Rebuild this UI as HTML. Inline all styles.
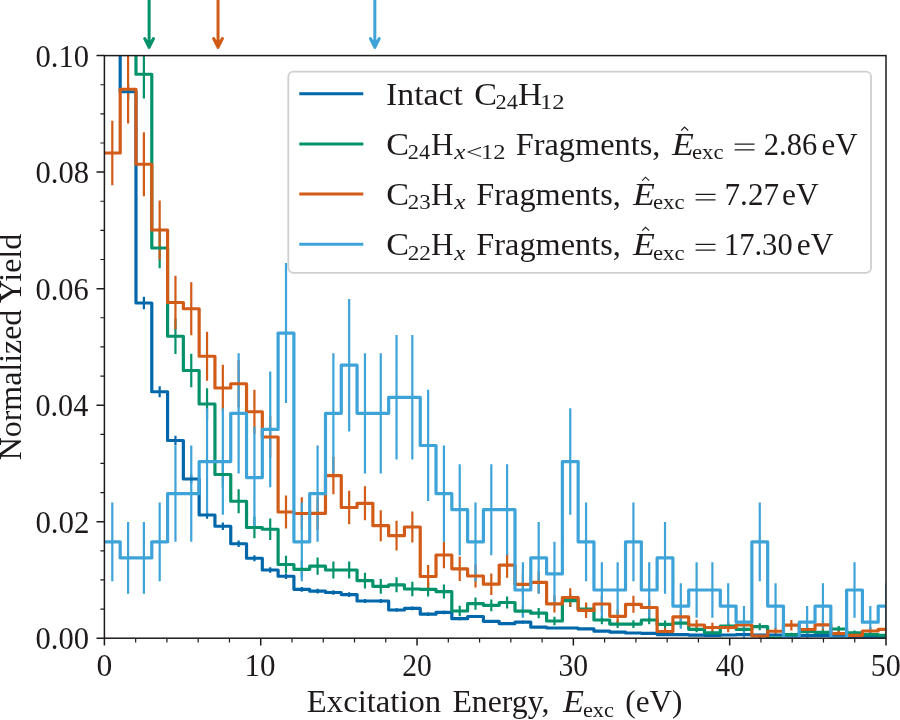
<!DOCTYPE html>
<html><head><meta charset="utf-8"><style>
html,body{margin:0;padding:0;background:#fff;}
svg{display:block;font-family:"Liberation Serif",serif;will-change:transform;}
</style></head><body>
<svg width="900" height="720" viewBox="0 0 900 720"><defs><clipPath id="ax"><rect x="104.4" y="55.6" width="781.6" height="582.6"/></clipPath></defs><rect width="900" height="720" fill="#fff"/><g clip-path="url(#ax)" fill="none"><path d="M112.30,21.46V38.54M128.09,83.65V99.85M143.88,296.66V309.34M159.67,386.31V397.19M175.46,435.63V445.37M191.26,474.63V483.37M207.05,511.16V518.84M222.84,522.58V529.92M238.63,540.38V547.12M254.42,555.15V561.35M270.22,567.14V572.86M286.01,573.52V578.98M301.80,586.88V591.72M317.59,588.83V593.57M333.38,590.16V594.84M349.18,592.31V596.89M364.97,598.89V603.11M380.76,598.89V603.11M396.55,608.16V611.84M412.34,606.51V610.29M428.14,612.50V615.90M443.93,610.64V614.16M459.72,617.17V620.23M475.51,614.89V618.11M491.30,619.88V622.72M507.10,622.28V624.92M522.89,620.81V623.59M538.68,626.05V628.35M554.47,626.89V629.11M570.26,626.89V629.11M586.06,627.84V629.96M601.85,630.28V632.12M617.64,631.24V632.96M633.43,632.21V633.79M649.22,632.53V634.07M665.02,633.94V635.26M680.81,633.94V635.26M696.60,634.49V635.71M712.39,634.82V635.98M728.18,634.38V635.62M743.98,633.94V635.26M759.77,634.60V635.80M775.56,634.38V635.62M791.35,634.71V635.89M807.14,635.04V636.16M822.94,635.04V636.16M838.73,635.82V636.78M854.52,635.82V636.78M870.31,635.82V636.78M886.10,635.82V636.78" stroke="#0068aa" stroke-width="2.2"/><path d="M112.30,-5.48V45.48M128.09,-5.48V45.48M143.88,49.92V98.58M159.67,227.76V268.24M175.46,318.44V354.06M191.26,353.73V387.27M207.05,388.32V419.68M222.84,461.39V487.61M238.63,489.26V513.24M254.42,516.72V538.28M270.22,518.55V539.95M286.01,555.70V573.30M301.80,560.79V577.81M317.59,557.40V574.80M333.38,561.54V578.46M349.18,561.54V578.46M364.97,572.82V588.38M380.76,578.92V593.68M396.55,577.31V592.29M412.34,581.81V596.19M428.14,582.13V596.47M443.93,584.61V598.59M459.72,605.66V616.34M475.51,597.57V609.63M491.30,599.42V611.18M507.10,596.38V608.62M522.89,605.77V616.43M538.68,608.08V618.32M554.47,616.75V625.25M570.26,594.43V606.97M586.06,603.46V614.54M601.85,615.63V624.37M617.64,620.25V627.95M633.43,620.25V627.95M649.22,615.63V624.37M665.02,620.59V628.21M680.81,619.23V627.17M696.60,626.24V632.36M712.39,630.42V635.18M728.18,622.42V629.58M743.98,626.24V632.36M759.77,623.23V630.17M791.35,632.78V636.62M807.14,628.97V634.23M822.94,629.93V634.87M838.73,625.89V632.11M854.52,630.42V635.18M870.31,632.78V636.62M886.10,633.56V637.04" stroke="#03926a" stroke-width="2.2"/><path d="M112.30,120.70V185.30M128.09,54.90V123.60M143.88,132.33V196.17M159.67,200.38V259.62M175.46,275.63V329.37M191.26,282.14V335.36M207.05,331.63V380.87M222.84,364.81V411.19M238.63,360.36V407.14M254.42,389.68V433.82M270.22,416.20V457.80M286.01,495.53V528.47M301.80,497.13V529.87M317.59,496.91V529.69M333.38,456.90V494.30M349.18,490.74V524.26M364.97,486.27V520.33M380.76,510.15V541.25M396.55,520.85V550.55M412.34,511.54V542.46M428.14,564.98V588.02M443.93,541.63V568.37M459.72,556.58V581.02M475.51,564.44V587.56M491.30,573.43V594.97M507.10,552.56V577.64M522.89,573.54V595.06M538.68,571.34V593.26M554.47,595.20V612.40M570.26,588.15V606.85M586.06,602.56V618.04M601.85,595.43V612.57M617.64,609.44V623.16M633.43,595.76V612.84M649.22,599.38V615.62M665.02,627.70V635.30M680.81,610.13V623.67M696.60,619.67V630.33M712.39,622.70V632.30M728.18,622.70V632.30M743.98,619.67V630.33M759.77,633.83V638.17M775.56,627.38V635.12M791.35,619.91V630.49M807.14,625.18V633.82M822.94,619.55V630.25M838.73,630.59V636.81M854.52,632.80V637.80M870.31,627.07V634.93M886.10,624.93V633.67" stroke="#d15b17" stroke-width="2.2"/><path d="M112.30,502.50V581.18M128.09,521.99V593.81M143.88,521.99V593.81M159.67,502.50V581.18M175.46,445.48V541.84M191.26,445.48V541.84M207.05,408.28V514.80M222.84,408.28V514.80M238.63,353.27V473.45M254.42,426.81V528.39M270.22,371.51V487.33M286.01,263.06V403.06M301.80,502.50V581.18M317.59,445.48V541.84M333.38,353.27V473.45M349.18,298.96V431.40M364.97,353.27V473.45M380.76,353.27V473.45M396.55,335.10V459.50M412.34,335.10V459.50M428.14,389.85V501.11M443.93,445.48V541.84M459.72,464.30V555.14M475.51,502.50V581.18M491.30,464.30V555.14M507.10,464.30V555.14M522.89,562.20V617.84M538.68,521.99V593.81M554.47,541.84V606.08M570.26,408.28V514.80M586.06,502.50V581.18M601.85,562.20V617.84M617.64,562.20V617.84M633.43,502.50V581.18M649.22,562.20V617.84M665.02,521.99V593.81M680.81,583.37V628.79M696.60,562.20V617.84M712.39,562.20V617.84M728.18,583.37V628.79M743.98,606.08V638.20M759.77,502.50V581.18M775.56,583.37V628.79M807.14,606.08V638.20M822.94,583.37V628.79M854.52,562.20V617.84M870.31,606.08V638.20M886.10,583.37V628.79" stroke="#3da3d9" stroke-width="2.2"/><path d="M104.40,30.00 H120.19 V91.75 H135.98 V303.00 H151.78 V391.75 H167.57 V440.50 H183.36 V479.00 H199.15 V515.00 H214.94 V526.25 H230.74 V543.75 H246.53 V558.25 H262.32 V570.00 H278.11 V576.25 H293.90 V589.30 H309.70 V591.20 H325.49 V592.50 H341.28 V594.60 H357.07 V601.00 H372.86 V601.00 H388.66 V610.00 H404.45 V608.40 H420.24 V614.20 H436.03 V612.40 H451.82 V618.70 H467.62 V616.50 H483.41 V621.30 H499.20 V623.60 H514.99 V622.20 H530.78 V627.20 H546.58 V628.00 H562.37 V628.00 H578.16 V628.90 H593.95 V631.20 H609.74 V632.10 H625.54 V633.00 H641.33 V633.30 H657.12 V634.60 H672.91 V634.60 H688.70 V635.10 H704.50 V635.40 H720.29 V635.00 H736.08 V634.60 H751.87 V635.20 H767.66 V635.00 H783.46 V635.30 H799.25 V635.60 H815.04 V635.60 H830.83 V636.30 H846.62 V636.30 H862.42 V636.30 H878.21 V636.30 H894.00" stroke="#0068aa" stroke-width="3.2" stroke-linejoin="round"/><path d="M104.40,20.00 H120.19 V20.00 H135.98 V74.25 H151.78 V248.00 H167.57 V336.25 H183.36 V370.50 H199.15 V404.00 H214.94 V474.50 H230.74 V501.25 H246.53 V527.50 H262.32 V529.25 H278.11 V564.50 H293.90 V569.30 H309.70 V566.10 H325.49 V570.00 H341.28 V570.00 H357.07 V580.60 H372.86 V586.30 H388.66 V584.80 H404.45 V589.00 H420.24 V589.30 H436.03 V591.60 H451.82 V611.00 H467.62 V603.60 H483.41 V605.30 H499.20 V602.50 H514.99 V611.10 H530.78 V613.20 H546.58 V621.00 H562.37 V600.70 H578.16 V609.00 H593.95 V620.00 H609.74 V624.10 H625.54 V624.10 H641.33 V620.00 H657.12 V624.40 H672.91 V623.20 H688.70 V629.30 H704.50 V632.80 H720.29 V626.00 H736.08 V629.30 H751.87 V626.70 H767.66 V638.20 H783.46 V634.70 H799.25 V631.60 H815.04 V632.40 H830.83 V629.00 H846.62 V632.80 H862.42 V634.70 H878.21 V635.30 H894.00" stroke="#03926a" stroke-width="3.2" stroke-linejoin="round"/><path d="M104.40,153.00 H120.19 V89.25 H135.98 V164.25 H151.78 V230.00 H167.57 V302.50 H183.36 V308.75 H199.15 V356.25 H214.94 V388.00 H230.74 V383.75 H246.53 V411.75 H262.32 V437.00 H278.11 V512.00 H293.90 V513.50 H309.70 V513.30 H325.49 V475.60 H341.28 V507.50 H357.07 V503.30 H372.86 V525.70 H388.66 V535.70 H404.45 V527.00 H420.24 V576.50 H436.03 V555.00 H451.82 V568.80 H467.62 V576.00 H483.41 V584.20 H499.20 V565.10 H514.99 V584.30 H530.78 V582.30 H546.58 V603.80 H562.37 V597.50 H578.16 V610.30 H593.95 V604.00 H609.74 V616.30 H625.54 V604.30 H641.33 V607.50 H657.12 V631.50 H672.91 V616.90 H688.70 V625.00 H704.50 V627.50 H720.29 V627.50 H736.08 V625.00 H751.87 V636.00 H767.66 V631.25 H783.46 V625.20 H799.25 V629.50 H815.04 V624.90 H830.83 V633.70 H846.62 V635.30 H862.42 V631.00 H878.21 V629.30 H894.00" stroke="#d15b17" stroke-width="3.2" stroke-linejoin="round"/><path d="M104.40,541.84 H120.19 V557.90 H135.98 V557.90 H151.78 V541.84 H167.57 V493.66 H183.36 V493.66 H199.15 V461.54 H214.94 V461.54 H230.74 V413.36 H246.53 V477.60 H262.32 V429.42 H278.11 V333.06 H293.90 V541.84 H309.70 V493.66 H325.49 V413.36 H341.28 V365.18 H357.07 V413.36 H372.86 V413.36 H388.66 V397.30 H404.45 V397.30 H420.24 V445.48 H436.03 V493.66 H451.82 V509.72 H467.62 V541.84 H483.41 V509.72 H499.20 V509.72 H514.99 V590.02 H530.78 V557.90 H546.58 V573.96 H562.37 V461.54 H578.16 V541.84 H593.95 V590.02 H609.74 V590.02 H625.54 V541.84 H641.33 V590.02 H657.12 V557.90 H672.91 V606.08 H688.70 V590.02 H704.50 V590.02 H720.29 V606.08 H736.08 V622.14 H751.87 V541.84 H767.66 V606.08 H783.46 V638.20 H799.25 V622.14 H815.04 V606.08 H830.83 V638.20 H846.62 V590.02 H862.42 V622.14 H878.21 V606.08 H894.00" stroke="#3da3d9" stroke-width="3.2" stroke-linejoin="round"/></g><rect x="104.4" y="55.6" width="781.6" height="582.6" fill="none" stroke="#1e1a1b" stroke-width="1.5"/><path d="M104.40,638.2v7.4M260.72,638.2v7.4M417.04,638.2v7.4M573.36,638.2v7.4M729.68,638.2v7.4M886.00,638.2v7.4M104.4,638.20h-7.9M104.4,521.68h-7.9M104.4,405.16h-7.9M104.4,288.64h-7.9M104.4,172.12h-7.9M104.4,55.60h-7.9" stroke="#1e1a1b" stroke-width="1.5" fill="none"/><path d="M135.66,638.2v4.3M166.93,638.2v4.3M198.19,638.2v4.3M229.46,638.2v4.3M291.98,638.2v4.3M323.25,638.2v4.3M354.51,638.2v4.3M385.78,638.2v4.3M448.30,638.2v4.3M479.57,638.2v4.3M510.83,638.2v4.3M542.10,638.2v4.3M604.62,638.2v4.3M635.89,638.2v4.3M667.15,638.2v4.3M698.42,638.2v4.3M760.94,638.2v4.3M792.21,638.2v4.3M823.47,638.2v4.3M854.74,638.2v4.3M104.4,609.07h-4M104.4,579.94h-4M104.4,550.81h-4M104.4,492.55h-4M104.4,463.42h-4M104.4,434.29h-4M104.4,376.03h-4M104.4,346.90h-4M104.4,317.77h-4M104.4,259.51h-4M104.4,230.38h-4M104.4,201.25h-4M104.4,142.99h-4M104.4,113.86h-4M104.4,84.73h-4" stroke="#1e1a1b" stroke-width="1.2" fill="none"/><path d="M149.11,-5V44" stroke="#03926a" stroke-width="3" fill="none"/><path d="M144.71,38.5L149.11,47.4L153.51,38.5" stroke="#03926a" stroke-width="3" stroke-linejoin="round" stroke-linecap="round" fill="none"/><path d="M144.71,38.5L149.11,40.8L153.51,38.5L149.11,47.4Z" fill="#03926a"/><path d="M218.04,-5V44" stroke="#d15b17" stroke-width="3" fill="none"/><path d="M213.64,38.5L218.04,47.4L222.44,38.5" stroke="#d15b17" stroke-width="3" stroke-linejoin="round" stroke-linecap="round" fill="none"/><path d="M213.64,38.5L218.04,40.8L222.44,38.5L218.04,47.4Z" fill="#d15b17"/><path d="M374.83,-5V44" stroke="#3da3d9" stroke-width="3" fill="none"/><path d="M370.43,38.5L374.83,47.4L379.23,38.5" stroke="#3da3d9" stroke-width="3" stroke-linejoin="round" stroke-linecap="round" fill="none"/><path d="M370.43,38.5L374.83,40.8L379.23,38.5L374.83,47.4Z" fill="#3da3d9"/><rect x="288.3" y="71.7" width="582.7" height="201.1" rx="5" ry="5" fill="#fff" stroke="#cfcfcf" stroke-width="1.8"/><path d="M299.3,93.85H363.3" stroke="#0068aa" stroke-width="3"/><path d="M299.3,143.95H363.3" stroke="#03926a" stroke-width="3"/><path d="M299.3,194.05H363.3" stroke="#d15b17" stroke-width="3"/><path d="M299.3,244.15H363.3" stroke="#3da3d9" stroke-width="3"/><g font-family="Liberation Serif" fill="#1e1a1b"><text x="386.08" y="104.60" font-size="31" textLength="76.82" lengthAdjust="spacingAndGlyphs">Intact</text><text x="474.20" y="104.60" font-size="31" textLength="22.79" lengthAdjust="spacingAndGlyphs">C</text><text x="495.52" y="109.20" font-size="21" textLength="22.33" lengthAdjust="spacingAndGlyphs">24</text><text x="517.94" y="104.60" font-size="31" textLength="24.14" lengthAdjust="spacingAndGlyphs">H</text><text x="540.04" y="109.20" font-size="21" textLength="24.62" lengthAdjust="spacingAndGlyphs">12</text><text x="386.30" y="154.70" font-size="31" textLength="22.79" lengthAdjust="spacingAndGlyphs">C</text><text x="407.72" y="159.30" font-size="21" textLength="22.33" lengthAdjust="spacingAndGlyphs">24</text><text x="430.90" y="154.70" font-size="31" textLength="22.51" lengthAdjust="spacingAndGlyphs">H</text><text x="454.31" y="159.30" font-size="21" textLength="11.13" lengthAdjust="spacingAndGlyphs" font-style="italic">x</text><text x="465.72" y="159.30" font-size="21" textLength="16.73" lengthAdjust="spacingAndGlyphs">&lt;</text><text x="481.10" y="159.30" font-size="21" textLength="24.51" lengthAdjust="spacingAndGlyphs">12</text><text x="515.77" y="154.70" font-size="31" textLength="144.57" lengthAdjust="spacingAndGlyphs">Fragments,</text><text x="671.92" y="154.70" font-size="31" textLength="21.86" lengthAdjust="spacingAndGlyphs" font-style="italic">E</text><path d="M681.20,130.50L684.50,127.10L688.20,130.50" stroke="#1e1a1b" stroke-width="1.1" fill="none"/><text x="691.91" y="159.30" font-size="21" textLength="31.59" lengthAdjust="spacingAndGlyphs">exc</text><path d="M734.60,144.15H754.50M734.60,149.85H754.50" stroke="#1e1a1b" stroke-width="1.25" fill="none"/><text x="763.86" y="154.70" font-size="31" textLength="53.35" lengthAdjust="spacingAndGlyphs">2.86</text><text x="821.49" y="154.70" font-size="31" textLength="36.06" lengthAdjust="spacingAndGlyphs">eV</text><text x="386.30" y="204.80" font-size="31" textLength="22.79" lengthAdjust="spacingAndGlyphs">C</text><text x="407.69" y="209.40" font-size="21" textLength="22.90" lengthAdjust="spacingAndGlyphs">23</text><text x="430.90" y="204.80" font-size="31" textLength="22.51" lengthAdjust="spacingAndGlyphs">H</text><text x="454.31" y="209.40" font-size="21" textLength="11.13" lengthAdjust="spacingAndGlyphs" font-style="italic">x</text><text x="476.37" y="204.80" font-size="31" textLength="144.47" lengthAdjust="spacingAndGlyphs">Fragments,</text><text x="632.92" y="204.80" font-size="31" textLength="21.86" lengthAdjust="spacingAndGlyphs" font-style="italic">E</text><path d="M642.20,180.60L645.50,177.20L649.20,180.60" stroke="#1e1a1b" stroke-width="1.1" fill="none"/><text x="652.91" y="209.40" font-size="21" textLength="31.59" lengthAdjust="spacingAndGlyphs">exc</text><path d="M695.60,194.25H715.50M695.60,199.95H715.50" stroke="#1e1a1b" stroke-width="1.25" fill="none"/><text x="724.55" y="204.80" font-size="31" textLength="54.45" lengthAdjust="spacingAndGlyphs">7.27</text><text x="782.07" y="204.80" font-size="31" textLength="36.58" lengthAdjust="spacingAndGlyphs">eV</text><text x="386.30" y="254.90" font-size="31" textLength="22.79" lengthAdjust="spacingAndGlyphs">C</text><text x="407.68" y="259.50" font-size="21" textLength="23.31" lengthAdjust="spacingAndGlyphs">22</text><text x="430.90" y="254.90" font-size="31" textLength="22.51" lengthAdjust="spacingAndGlyphs">H</text><text x="454.31" y="259.50" font-size="21" textLength="11.13" lengthAdjust="spacingAndGlyphs" font-style="italic">x</text><text x="476.37" y="254.90" font-size="31" textLength="144.47" lengthAdjust="spacingAndGlyphs">Fragments,</text><text x="632.92" y="254.90" font-size="31" textLength="21.86" lengthAdjust="spacingAndGlyphs" font-style="italic">E</text><path d="M642.20,230.70L645.50,227.30L649.20,230.70" stroke="#1e1a1b" stroke-width="1.1" fill="none"/><text x="652.91" y="259.50" font-size="21" textLength="31.59" lengthAdjust="spacingAndGlyphs">exc</text><path d="M695.60,244.35H715.50M695.60,250.05H715.50" stroke="#1e1a1b" stroke-width="1.25" fill="none"/><text x="723.91" y="254.90" font-size="31" textLength="68.75" lengthAdjust="spacingAndGlyphs">17.30</text><text x="796.77" y="254.90" font-size="31" textLength="36.58" lengthAdjust="spacingAndGlyphs">eV</text><text x="35.44" y="649.20" font-size="32" textLength="53.53" lengthAdjust="spacingAndGlyphs">0.00</text><text x="35.42" y="532.68" font-size="32" textLength="54.08" lengthAdjust="spacingAndGlyphs">0.02</text><text x="35.45" y="416.16" font-size="32" textLength="52.82" lengthAdjust="spacingAndGlyphs">0.04</text><text x="35.44" y="299.64" font-size="32" textLength="53.27" lengthAdjust="spacingAndGlyphs">0.06</text><text x="35.44" y="183.12" font-size="32" textLength="53.53" lengthAdjust="spacingAndGlyphs">0.08</text><text x="35.44" y="66.60" font-size="32" textLength="53.53" lengthAdjust="spacingAndGlyphs">0.10</text><text x="96.40" y="675.80" font-size="32.5" textLength="15.81" lengthAdjust="spacingAndGlyphs">0</text><text x="244.59" y="675.80" font-size="32.5" textLength="31.01" lengthAdjust="spacingAndGlyphs">10</text><text x="402.34" y="675.80" font-size="32.5" textLength="29.52" lengthAdjust="spacingAndGlyphs">20</text><text x="558.54" y="675.80" font-size="32.5" textLength="29.65" lengthAdjust="spacingAndGlyphs">30</text><text x="715.72" y="675.80" font-size="32.5" textLength="28.76" lengthAdjust="spacingAndGlyphs">40</text><text x="870.86" y="675.80" font-size="32.5" textLength="29.98" lengthAdjust="spacingAndGlyphs">50</text><text x="306.86" y="712.30" font-size="31" textLength="134.34" lengthAdjust="spacingAndGlyphs">Excitation</text><text x="452.41" y="712.30" font-size="31" textLength="97.14" lengthAdjust="spacingAndGlyphs">Energy,</text><text x="562.90" y="712.30" font-size="31" textLength="20.95" lengthAdjust="spacingAndGlyphs" font-style="italic">E</text><text x="582.93" y="716.90" font-size="21" textLength="31.06" lengthAdjust="spacingAndGlyphs">exc</text><text x="625.33" y="712.30" font-size="31" textLength="57.14" lengthAdjust="spacingAndGlyphs">(eV)</text><text transform="rotate(-90)" x="-460.31" y="21.35" font-size="31" textLength="226.49" lengthAdjust="spacingAndGlyphs">Normalized Yield</text></g></svg>
</body></html>
